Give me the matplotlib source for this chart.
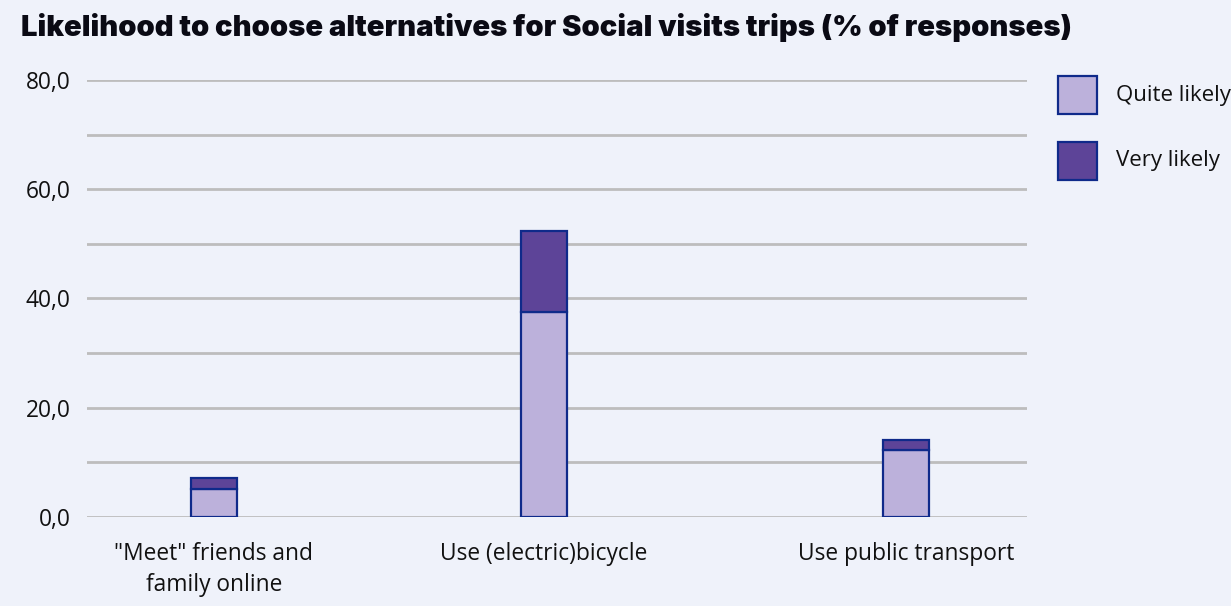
import matplotlib
matplotlib.use("Agg")
import matplotlib.pyplot as plt
from matplotlib.patches import Rectangle

categories = ['"Meet" friends and\nfamily online', "Use (electric)bicycle", "Use public transport"]
quite_likely = [5.1, 37.6, 12.3]
very_likely = [2.0, 14.8, 1.8]
series_names = ["Quite likely", "Very likely"]
y_ticks = [0, 20, 40, 60, 80]
y_tick_labels = ["0,0", "20,0", "40,0", "60,0", "80,0"]

BG = "#eff2fa"
LIGHT = "#bcb1db"
DARK = "#5d4498"
EDGE = "#0f2a8a"
GRID = "#bdbdbd"
TXT = "#111111"

plt.rcParams["font.family"] = ["Open Sans", "DejaVu Sans"]

W, H = 12.31, 6.06
fig = plt.figure(figsize=(W, H), dpi=100, facecolor=BG)
ax = fig.add_axes([0.0707, 0.1469, 0.7636, 0.7211], facecolor=BG)

# horizontal slot centres of the three stacks within the plot area
x_pos = [0.135, 0.486, 0.871]
bar_w = 0.049

for y in range(0, 81, 10):
    ax.axhline(y, color=GRID, lw=2.0, zorder=0)

ax.bar(x_pos, quite_likely, width=bar_w, color=LIGHT, edgecolor=EDGE,
       linewidth=1.6, zorder=3)
ax.bar(x_pos, very_likely, width=bar_w, bottom=quite_likely, color=DARK,
       edgecolor=EDGE, linewidth=1.6, zorder=3)

ax.set_xlim(0, 1)
ax.set_ylim(0, 80)
ax.set_yticks(y_ticks)
ax.set_yticklabels(y_tick_labels, fontsize=16.4, color=TXT)
ax.set_xticks(x_pos)
ax.set_xticklabels(categories, fontsize=16.4, color=TXT, linespacing=1.38)
ax.tick_params(axis="both", length=0)
ax.tick_params(axis="y", pad=12)
ax.tick_params(axis="x", pad=18)
for s in ax.spines.values():
    s.set_visible(False)

# legend drawn as square swatches with labels beside them
sw = 39 / (W * 100)
sh = 38 / (H * 100)
legend_rows = [(1 - 95 / 606, LIGHT), (1 - 160.5 / 606, DARK)]
for (yc, col), name in zip(legend_rows, series_names):
    fig.add_artist(Rectangle((1057.5 / 1231, yc - sh / 2), sw, sh,
                             transform=fig.transFigure, facecolor=col,
                             edgecolor=EDGE, linewidth=1.6))
    fig.text(1116 / 1231, yc, name, fontsize=16, color=TXT, va="center", ha="left")

fig.text(0.017, 0.955, "Likelihood to choose alternatives for Social visits trips (% of responses)",
         fontsize=21, fontweight="black", family=["Inter", "DejaVu Sans"],
         color="#0a0a14", va="center", ha="left")

fig.savefig("out.png", dpi=100, facecolor=BG)
